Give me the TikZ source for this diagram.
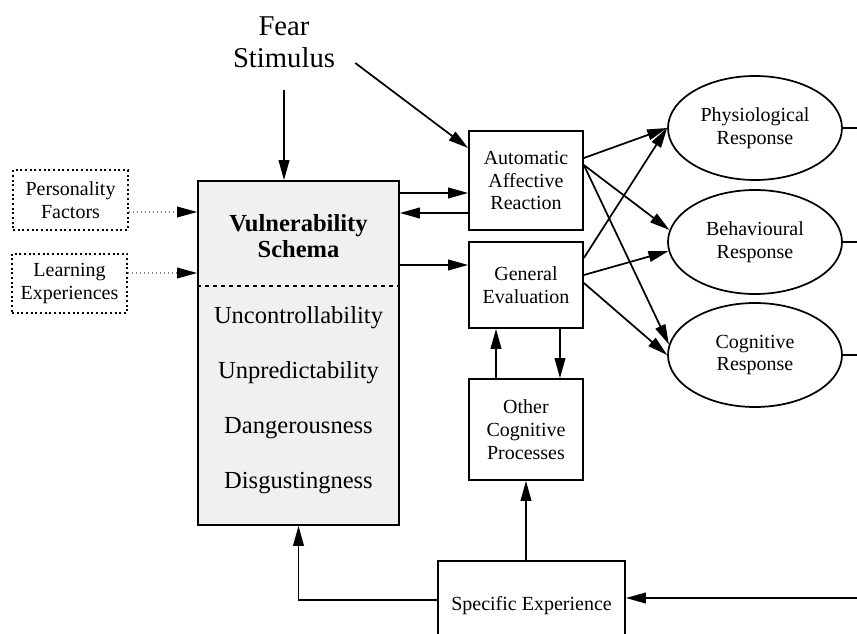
\documentclass[tikz,border=0pt]{standalone}
\usepackage{fontspec}
\setmainfont{Liberation Serif}
\usetikzlibrary{arrows.meta,shapes.geometric,calc}

\begin{document}
\begin{tikzpicture}[x=0.75pt,y=-0.75pt,
    box/.style={draw,line width=1.3pt,fill=white,align=center,inner sep=0pt,minimum width=85.5pt,font=\fontsize{15}{17}\selectfont},
    dotbox/.style={draw,dotted,line width=1.5pt,align=center,inner sep=0pt,minimum width=86.25pt,minimum height=44.5pt,font=\fontsize{15}{17}\selectfont},
    resp/.style={draw,ellipse,line width=1.3pt,align=center,inner sep=0pt,minimum width=130.5pt,minimum height=78pt,font=\fontsize{15}{17}\selectfont},
    vtxt/.style={inner sep=0pt,font=\fontsize{18.4}{20}\selectfont},
    arr/.style={line width=1.3pt,-{Triangle[length=15pt,width=8pt]}},
    dotarr/.style={gray,dotted,line width=1pt,-{Triangle[length=15pt,width=8pt,color=black]}}
  ]
\useasboundingbox (0,0) rectangle (857,634);
\clip (0,0) rectangle (857,634);

% Fear stimulus
\node[inner sep=0pt,align=center,font=\fontsize{21.5}{24}\selectfont] (fear) at (284,42) {Fear\\Stimulus};

% Outside factors
\node[dotbox] (pers) at (70.5,200) {Personality\\Factors};
\node[dotbox] (lexp) at (69.5,283.5) {Learning\\Experiences};

% Vulnerability schema
\node[draw,line width=1.3pt,fill=gray!12,minimum width=150.75pt,minimum height=258pt] (vul) at (298.5,353) {};
\draw[line width=1.1pt,dashed] (vul.west |- 0,286) -- (vul.east |- 0,286);
\node[vtxt,align=center,font=\fontsize{18.4}{20}\selectfont\bfseries] (vtitle) at (298.5,236) {Vulnerability\\Schema};
\node[vtxt] (unctrl) at (298.5,318) {Uncontrollability};
\node[vtxt] (unpred) at (298.5,373) {Unpredictability};
\node[vtxt] (danger) at (298.5,428) {Dangerousness};
\node[vtxt] (disgust) at (298.5,483) {Disgustingness};

% Processing boxes
\node[box,minimum height=74.25pt] (aar) at (526,180.5) {Automatic\\Affective\\Reaction};
\node[box,minimum height=64.5pt] (gen) at (526,285) {General\\Evaluation};
\node[box,minimum height=75.75pt] (ocp) at (526,429.5) {Other\\Cognitive\\Processes};
\node[box,minimum width=140.25pt,minimum height=67.5pt] (spx) at (531.5,606) {Specific Experience};

% Responses
\node[resp] (phys) at (755,128) {Physiological\\Response};
\node[resp] (behv) at (755,242) {Behavioural\\Response};
\node[resp] (cogr) at (755,355) {Cognitive\\Response};
\coordinate (fback) at (857,598);

% Connectors
\draw[arr] (fear.south |- 0,90) -- (fear.south |- vul.north);
\draw[arr] ($(fear.east)+(20,21)$) -- (aar.west |- 0,148);
\draw[dotarr] (pers.east |- 0,212) -- (vul.west |- 0,212);
\draw[dotarr] (lexp.east |- 0,273) -- (vul.west |- 0,273);
\draw[arr] (vul.east |- 0,193) -- (aar.west |- 0,193);
\draw[arr] (aar.west |- 0,213) -- (vul.east |- 0,213);
\draw[arr] (vul.east |- 0,265) -- (gen.west |- 0,265);
\draw[arr] (gen.south -| 560,0) -- (ocp.north -| 560,0);
\draw[arr] (ocp.north -| 496,0) -- (gen.south -| 496,0);
\draw[arr] (spx.north -| ocp.south) -- (ocp.south);
\draw[arr] (spx.west |- 0,600) -| (vul.south);
\draw[arr] (fback) -- (spx.east |- fback);

\draw[arr] (aar.east |- 0,158) -- (phys.west);
\draw[arr] (aar.east |- 0,165) -- (behv.172);
\draw[arr] (aar.east |- 0,165) -- (cogr.173);
\draw[arr] (gen.east |- 0,258) -- (phys.west);
\draw[arr] (gen.east |- 0,275) -- (behv.186);
\draw[arr] (gen.east |- 0,283) -- (cogr.west);

\draw[line width=1.3pt] (phys.east) -- (phys.east -| fback);
\draw[line width=1.3pt] (behv.east) -- (behv.east -| fback);
\draw[line width=1.3pt] (cogr.east) -- (cogr.east -| fback);
\end{tikzpicture}
\end{document}
